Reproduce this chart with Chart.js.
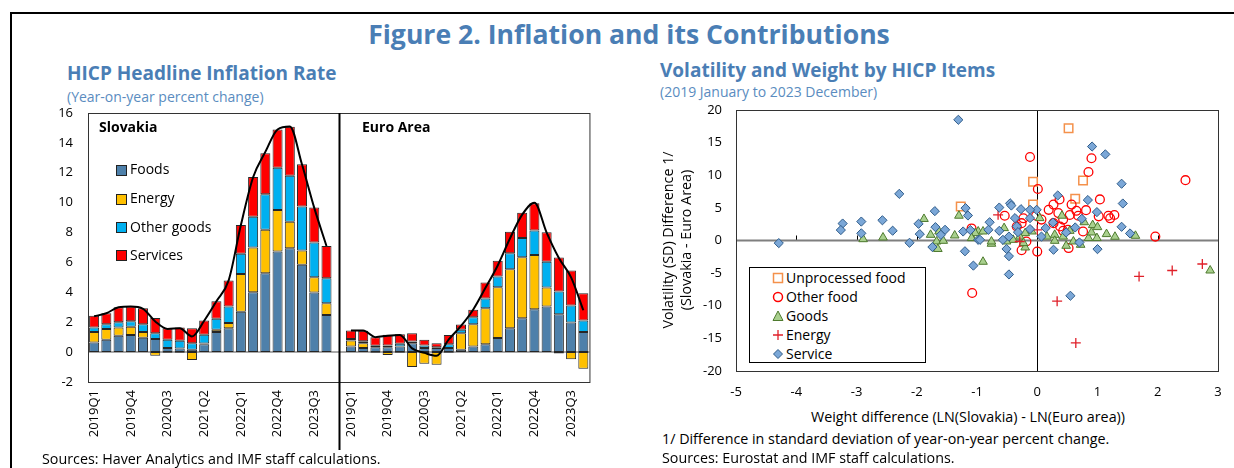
<!DOCTYPE html>
<html>
<head>
<meta charset="utf-8">
<title>Figure 2. Inflation and its Contributions</title>
<script src="https://cdn.jsdelivr.net/npm/chart.js@4.4.0/dist/chart.umd.min.js"></script>
<style>
  body { margin: 0; width: 1234px; height: 468px; overflow: hidden; background: #fff; font-family: "Open Sans", "Noto Sans", sans-serif; color: #000; }
  .frame { position: absolute; left: 10px; top: 12px; width: 1260px; height: 500px; border: 2.5px solid #000; box-sizing: border-box; }
  .t { position: absolute; white-space: nowrap; line-height: 1; }
  .title { font-size: 26.6px; font-weight: bold; color: #4a7eb5; }
  .sub { font-size: 19px; font-weight: bold; color: #4a7eb5; }
  .note { font-size: 14px; color: #5a8cc0; }
  .src { font-size: 14.3px; }
  .panel { font-size: 14px; font-weight: bold; }
  .leg { font-size: 14px; }
  .sw { position: absolute; width: 9px; height: 9px; border: 1px solid #222; }
  canvas { position: absolute; }
  #scatterLegend { position: absolute; left: 749px; top: 267px; width: 177px; height: 96px; border: 1px solid #000; background: #fff; box-sizing: border-box; }
  #scatterLegend .row { position: absolute; left: 22px; height: 19px; font-size: 14px; line-height: 19px; white-space: nowrap; }
  #scatterLegend svg { position: absolute; left: 0; top: 4px; }
  #scatterLegend span { position: absolute; left: 14px; top: 0; }
</style>
</head>
<body>
<div class="frame"></div>

<div class="t title" style="left:629px; top:21px; transform:translateX(-50%);">Figure 2. Inflation and its Contributions</div>

<div class="t sub" style="left:67px; top:64px;">HICP Headline Inflation Rate</div>
<div class="t note" style="left:67px; top:90px;">(Year-on-year percent change)</div>

<div class="t sub" style="left:660px; top:61px;">Volatility and Weight by HICP Items</div>
<div class="t note" style="left:660px; top:85px;">(2019 January to 2023 December)</div>

<canvas id="hicp-chart" width="560" height="350" style="left:40px; top:100px;"></canvas>
<canvas id="scatter-chart" width="580" height="300" style="left:650px; top:100px;"></canvas>

<div class="t panel" style="left:99px; top:120px;">Slovakia</div>
<div class="t panel" style="left:362px; top:120px;">Euro Area</div>

<div class="sw" style="left:116px; top:165px; background:#4e80aa;"></div>
<div class="t leg" style="left:130px; top:162px;">Foods</div>
<div class="sw" style="left:116px; top:194px; background:#ffc000;"></div>
<div class="t leg" style="left:130px; top:191px;">Energy</div>
<div class="sw" style="left:116px; top:222px; background:#00b0f0;"></div>
<div class="t leg" style="left:130px; top:220px;">Other goods</div>
<div class="sw" style="left:116px; top:250px; background:#ff0000;"></div>
<div class="t leg" style="left:130px; top:248px;">Services</div>

<div id="scatterLegend">
  <div class="row" style="top:0px;"><svg width="12" height="12"><rect x="1.5" y="1.5" width="9" height="9" fill="none" stroke="#f4914b" stroke-width="1.5"/></svg><span>Unprocessed food</span></div>
  <div class="row" style="top:19px;"><svg width="12" height="12"><circle cx="6" cy="6" r="4.5" fill="none" stroke="#ff0000" stroke-width="1.5"/></svg><span>Other food</span></div>
  <div class="row" style="top:38px;"><svg width="12" height="12"><polygon points="6,1 11,10.5 1,10.5" fill="#a9d08e" stroke="#4e7a2e" stroke-width="1"/></svg><span>Goods</span></div>
  <div class="row" style="top:57px;"><svg width="12" height="12"><path d="M6 1 V11 M1 6 H11" stroke="#e0202a" stroke-width="1.3"/></svg><span>Energy</span></div>
  <div class="row" style="top:76px;"><svg width="12" height="12"><polygon points="6,1.5 10.5,6 6,10.5 1.5,6" fill="#7ba7d7" stroke="#2f5c8a" stroke-width="1"/></svg><span>Service</span></div>
</div>

<div class="t src" style="left:668px; top:240px; transform:translate(-50%,-50%) rotate(-90deg);">Volatility (SD) Difference 1/</div>
<div class="t src" style="left:686px; top:240px; transform:translate(-50%,-50%) rotate(-90deg);">(Slovakia - Euro Area)</div>
<div class="t src" style="left:968px; top:410px; transform:translateX(-50%);">Weight difference (LN(Slovakia) - LN(Euro area))</div>

<div class="t src" style="left:662px; top:432px;">1/ Difference in standard deviation of year-on-year percent change.</div>
<div class="t src" style="left:662px; top:451px;">Sources: Eurostat and IMF staff calculations.</div>
<div class="t src" style="left:42px; top:452px;">Sources: Haver Analytics and IMF staff calculations.</div>

<script>
// quarters shown for each area
const quarters = ['2019Q1', '2019Q2', '2019Q3', '2019Q4', '2020Q1', '2020Q2', '2020Q3', '2020Q4',
    '2021Q1', '2021Q2', '2021Q3', '2021Q4', '2022Q1', '2022Q2', '2022Q3', '2022Q4',
    '2023Q1', '2023Q2', '2023Q3', '2023Q4'];
const shownQuarters = ['2019Q1', '2019Q4', '2020Q3', '2021Q2', '2022Q1', '2022Q4', '2023Q3'];

// Slovakia contributions (pp)
const foodsSK    = [0.65, 0.82, 1.09, 1.14, 0.96, 0.87, 0.27, 0.25, 0.15, 0.53, 1.34, 1.60, 2.70, 4.00, 5.28, 6.73, 6.95, 5.84, 3.99, 2.49];
const energySK   = [0.70, 0.72, 0.56, 0.55, 0.38, -0.25, -0.05, -0.05, -0.53, 0.05, 0.16, 0.34, 2.53, 3.00, 2.90, 2.78, 1.78, 0.96, 1.02, 0.78];
const otherSK    = [0.30, 0.33, 0.35, 0.38, 0.53, 0.40, 0.55, 0.51, 0.45, 0.58, 0.73, 1.11, 1.36, 2.05, 2.38, 2.83, 3.07, 2.94, 2.32, 1.67];
const servicesSK = [0.78, 0.73, 1.00, 0.98, 1.07, 1.02, 0.78, 0.89, 1.00, 0.96, 1.18, 1.74, 1.92, 2.67, 2.74, 2.56, 3.28, 2.83, 2.34, 2.16];
const headlineSK = [2.4, 2.6, 3.0, 3.05, 2.9, 2.05, 1.55, 1.6, 1.05, 2.1, 3.4, 4.8, 8.5, 11.7, 13.4, 14.9, 15.1, 12.55, 9.65, 7.1];

// Euro area contributions (pp)
const foodsEA    = [0.38, 0.27, 0.33, 0.33, 0.38, 0.60, 0.27, 0.27, 0.27, 0.16, 0.38, 0.53, 0.94, 1.60, 2.27, 2.87, 3.05, 2.54, 1.98, 1.34];
const energyEA   = [0.40, 0.33, -0.05, -0.20, -0.05, -1.00, -0.78, -0.85, -0.05, 1.11, 1.49, 2.41, 3.40, 3.95, 4.08, 3.63, 1.27, -0.10, -0.47, -1.11];
const otherEA    = [0.09, 0.13, 0.09, 0.12, 0.18, 0.11, 0.18, 0.06, 0.26, 0.22, 0.47, 0.65, 0.72, 1.06, 1.29, 1.63, 1.72, 1.51, 1.14, 0.78];
const servicesEA = [0.58, 0.70, 0.58, 0.71, 0.64, 0.56, 0.37, 0.27, 0.61, 0.36, 0.49, 1.06, 1.06, 1.45, 1.69, 1.83, 1.98, 2.28, 2.34, 1.82];
const headlineEA = [1.45, 1.45, 1.0, 1.1, 1.15, 0.25, -0.05, -0.25, 0.85, 1.75, 2.85, 4.3, 5.8, 7.6, 9.2, 10.0, 8.0, 6.3, 5.0, 2.8];

// scatter: [weight difference, volatility difference]
const unprocessedFood = [[-1.27, 5.2], [0.52, 17.2], [-0.07, 9.0], [0.76, 9.2], [0.63, 6.4], [-0.07, 5.5]];
const otherFood = [[-0.12, 12.8], [0.90, 12.6], [0.85, 10.5], [0.01, 7.9], [2.46, 9.25], [1.04, 6.3], [0.37, 6.3],
    [0.27, 5.5], [0.57, 5.5], [0.19, 4.7], [0.65, 4.55], [0.81, 4.65], [1.18, 3.8], [1.28, 3.9], [1.21, 3.4],
    [1.02, 3.7], [-0.54, 3.8], [0.35, 4.2], [0.54, 3.9], [0.68, 3.8], [0.43, 3.2], [0.07, 3.2], [-0.02, 3.8],
    [-0.23, 3.4], [-0.26, 2.66], [-0.34, 2.15], [0.27, 2.66], [0.38, 2.15], [0.51, 1.64], [0.76, 1.38],
    [1.96, 0.6], [-1.09, 1.85], [0.43, 1.48], [-0.18, -0.15], [-0.26, -1.5], [0.0, -1.7], [-1.08, -8.05], [0.52, -1.16]];
const goods = [[-2.89, 0.2], [-2.56, 0.46], [-1.88, 3.3], [-1.30, 3.8], [-1.77, 0.87], [-1.63, 1.38], [-1.67, -0.15],
    [-1.56, -0.05], [-1.65, -1.3], [-1.37, 0.77], [-1.08, 0.37], [-0.98, 1.38], [-0.90, -3.26], [2.87, -4.6],
    [-0.76, -0.5], [0.04, 3.43], [0.41, 3.8], [0.92, 2.36], [1.0, 2.05], [1.15, 0.98], [1.29, 0.57], [1.63, 0.72],
    [0.99, 0.37], [0.85, 0.37], [0.90, 1.23], [0.78, 2.8], [0.54, 1.48], [0.43, 0.6], [0.29, 0.87], [0.29, -0.05],
    [0.16, 0.6], [0.48, -0.81], [0.60, -0.15], [0.72, -0.66], [-0.09, 1.38], [-0.2, 1.13], [-0.29, 0.6],
    [-0.40, 0.1], [-0.51, -0.15], [-0.2, -1.07], [-0.23, -0.4], [-0.55, 1.9], [-0.76, -0.15], [-0.90, 1.38],
    [-1.03, 1.13], [-1.09, 0.37]];
const energy = [[1.69, -5.5], [2.24, -4.6], [2.74, -3.6], [0.33, -9.3], [0.64, -15.7], [-0.65, 3.93], [0.0, 1.64], [-0.29, -0.15]];
const service = [[-1.31, 18.5], [-4.29, -0.4], [-3.23, 2.6], [-3.26, 1.6], [-2.92, 2.9], [-2.92, 1.1], [-2.57, 3.1],
    [-2.40, 1.5], [-2.29, 7.15], [-2.12, -0.35], [-1.97, 2.56], [-1.95, 0.98], [-1.70, 4.5], [-1.69, 2.05],
    [-1.53, 1.64], [-1.60, 0.87], [-1.74, -1.0], [-1.2, -1.65], [-1.23, 1.38], [-1.19, 4.96], [-1.15, 3.83],
    [-1.11, 1.6], [-1.06, -3.85], [-0.98, 0.1], [-0.47, -5.2], [-0.47, -2.4], [0.55, -8.47], [0.27, -1.42],
    [1.0, -1.32], [-0.51, -1.3], [0.91, 14.4], [1.13, 13.2], [1.40, 8.7], [1.42, 5.67], [0.84, 6.2], [0.34, 6.9],
    [0.99, 4.35], [1.40, 2.1], [1.54, 1.08], [0.74, 3.32], [0.63, 2.0], [0.70, -0.3], [0.48, 1.23], [0.26, 2.76],
    [0.07, 0.6], [0.14, 1.9], [-0.01, 4.7], [-0.12, 4.7], [-0.27, 4.8], [-0.45, 5.7], [-0.43, 5.36], [-0.63, 5.05],
    [-0.37, 3.43], [-0.12, 3.43], [-0.34, 2.15], [-0.12, 1.75], [-0.79, 2.8], [-0.81, 1.64], [-0.63, 1.48],
    [-0.95, 0.1], [-0.57, 0.1], [-0.47, 0.6], [-0.32, 1.28]];

const tickFont = { family: 'Open Sans', size: 13 };

// join the two areas with one empty slot between them
function joinAreas(sk, ea) {
    return sk.concat([null], ea);
}
const labels = joinAreas(quarters, quarters).map(q => q || '');
const gapIndex = quarters.length;

// frame, zero line and the divider between the two areas
const hicpLines = {
    id: 'hicpLines',
    beforeDatasetsDraw(chart) {
        const { ctx, chartArea: a, scales: { y } } = chart;
        ctx.save();
        ctx.strokeStyle = '#8c8c8c';
        ctx.lineWidth = 1.5;
        ctx.beginPath();
        ctx.moveTo(a.left, y.getPixelForValue(0));
        ctx.lineTo(a.right, y.getPixelForValue(0));
        ctx.stroke();
        ctx.restore();
    },
    afterDraw(chart) {
        const { ctx, chartArea: a, scales: { x } } = chart;
        ctx.save();
        ctx.strokeStyle = '#333';
        ctx.lineWidth = 1;
        ctx.strokeRect(a.left + 0.5, a.top + 0.5, a.right - a.left, a.bottom - a.top);
        const dx = Math.round(x.getPixelForValue(gapIndex)) + 0.5;
        ctx.strokeStyle = '#000';
        ctx.lineWidth = 2;
        ctx.beginPath();
        ctx.moveTo(dx, a.top);
        ctx.lineTo(dx, chart.height);
        ctx.stroke();
        ctx.restore();
    }
};

function barSet(label, sk, ea, color) {
    return {
        type: 'bar',
        label: label,
        data: joinAreas(sk, ea),
        backgroundColor: color,
        borderColor: '#262626',
        borderWidth: 1,
        borderSkipped: false,
        stack: 'contrib',
        barPercentage: 0.82,
        categoryPercentage: 1.0
    };
}

new Chart(document.getElementById('hicp-chart').getContext('2d'), {
    data: {
        labels: labels,
        datasets: [
            {
                type: 'line',
                label: 'Headline',
                data: joinAreas(headlineSK, headlineEA),
                borderColor: '#000',
                borderWidth: 2,
                pointRadius: 0,
                cubicInterpolationMode: 'monotone',
                stack: 'headline',
                order: -1
            },
            barSet('Foods', foodsSK, foodsEA, '#4e80aa'),
            barSet('Energy', energySK, energyEA, '#ffc000'),
            barSet('Other goods', otherSK, otherEA, '#00b0f0'),
            barSet('Services', servicesSK, servicesEA, '#ff0000')
        ]
    },
    options: {
        responsive: false,
        animation: false,
        layout: { padding: { top: 13, right: 6, left: 0, bottom: 0 } },
        plugins: { legend: { display: false }, tooltip: { enabled: false } },
        scales: {
            x: {
                stacked: true,
                grid: { display: false, drawTicks: true, tickLength: 7 },
                border: { display: false },
                ticks: {
                    autoSkip: false,
                    minRotation: 90,
                    maxRotation: 90,
                    padding: 1,
                    color: '#000',
                    font: tickFont,
                    callback: function(value) {
                        const q = this.getLabelForValue(value);
                        return shownQuarters.includes(q) ? q : '';
                    }
                },
                afterFit: s => { s.height = 68; }
            },
            y: {
                stacked: true,
                min: -2,
                max: 16,
                grid: { display: false, drawTicks: true, tickLength: 13 },
                border: { display: false },
                ticks: { stepSize: 2, padding: 2, color: '#000', font: tickFont },
                afterFit: s => { s.width = 48; }
            }
        }
    },
    plugins: [hicpLines]
});

// zero axes with small tick marks, and the plot frame
const crossAxes = {
    id: 'crossAxes',
    beforeDatasetsDraw(chart) {
        const { ctx, chartArea: a, scales: { x, y } } = chart;
        const x0 = Math.round(x.getPixelForValue(0)) + 0.5;
        const y0 = y.getPixelForValue(0);
        ctx.save();
        ctx.strokeStyle = '#000';
        ctx.lineWidth = 1;
        ctx.beginPath();
        ctx.moveTo(x0, a.top);
        ctx.lineTo(x0, a.bottom);
        x.ticks.forEach(t => {
            if (t.value === 0) return;
            const px = Math.round(x.getPixelForValue(t.value)) + 0.5;
            ctx.moveTo(px, y0);
            ctx.lineTo(px, y0 - 5);
        });
        ctx.stroke();
        ctx.strokeStyle = '#7f7f7f';
        ctx.lineWidth = 2;
        ctx.beginPath();
        ctx.moveTo(a.left, y0);
        ctx.lineTo(a.right, y0);
        ctx.stroke();
        ctx.restore();
    },
    afterDraw(chart) {
        const { ctx, chartArea: a } = chart;
        ctx.save();
        ctx.strokeStyle = '#333';
        ctx.lineWidth = 1;
        ctx.strokeRect(a.left + 0.5, a.top + 0.5, a.right - a.left, a.bottom - a.top);
        ctx.restore();
    }
};

function toPoints(pairs) {
    return pairs.map(p => ({ x: p[0], y: p[1] }));
}

new Chart(document.getElementById('scatter-chart').getContext('2d'), {
    type: 'scatter',
    data: {
        datasets: [
            { label: 'Unprocessed food', data: toPoints(unprocessedFood), pointStyle: 'rect', pointRadius: 6,
              backgroundColor: 'rgba(0,0,0,0)', borderColor: '#f4914b', borderWidth: 1.5, order: 5 },
            { label: 'Other food', data: toPoints(otherFood), pointStyle: 'circle', pointRadius: 4.4,
              backgroundColor: 'rgba(0,0,0,0)', borderColor: '#ff0000', borderWidth: 1.3, order: 4 },
            { label: 'Goods', data: toPoints(goods), pointStyle: 'triangle', pointRadius: 5,
              backgroundColor: '#a9d08e', borderColor: '#4e7a2e', borderWidth: 1, order: 3 },
            { label: 'Energy', data: toPoints(energy), pointStyle: 'cross', pointRadius: 5,
              borderColor: '#e0202a', borderWidth: 1.3, order: 2 },
            { label: 'Service', data: toPoints(service), pointStyle: 'rectRot', pointRadius: 4.6,
              backgroundColor: '#7ba7d7', borderColor: '#2f5c8a', borderWidth: 1, order: 1 }
        ]
    },
    options: {
        responsive: false,
        animation: false,
        layout: { padding: { top: 10, right: 12, left: 0, bottom: 0 } },
        plugins: { legend: { display: false }, tooltip: { enabled: false } },
        scales: {
            x: {
                min: -5,
                max: 3,
                grid: { display: false, drawTicks: true, tickLength: 12 },
                border: { display: false },
                ticks: { stepSize: 1, padding: 1, color: '#000', font: tickFont },
                afterFit: s => { s.height = 29; }
            },
            y: {
                min: -20,
                max: 20,
                grid: { display: false, drawTicks: true, tickLength: 13 },
                border: { display: false },
                ticks: { stepSize: 5, padding: 1, color: '#000', font: tickFont },
                afterFit: s => { s.width = 86; }
            }
        }
    },
    plugins: [crossAxes]
});
</script>
</body>
</html>
